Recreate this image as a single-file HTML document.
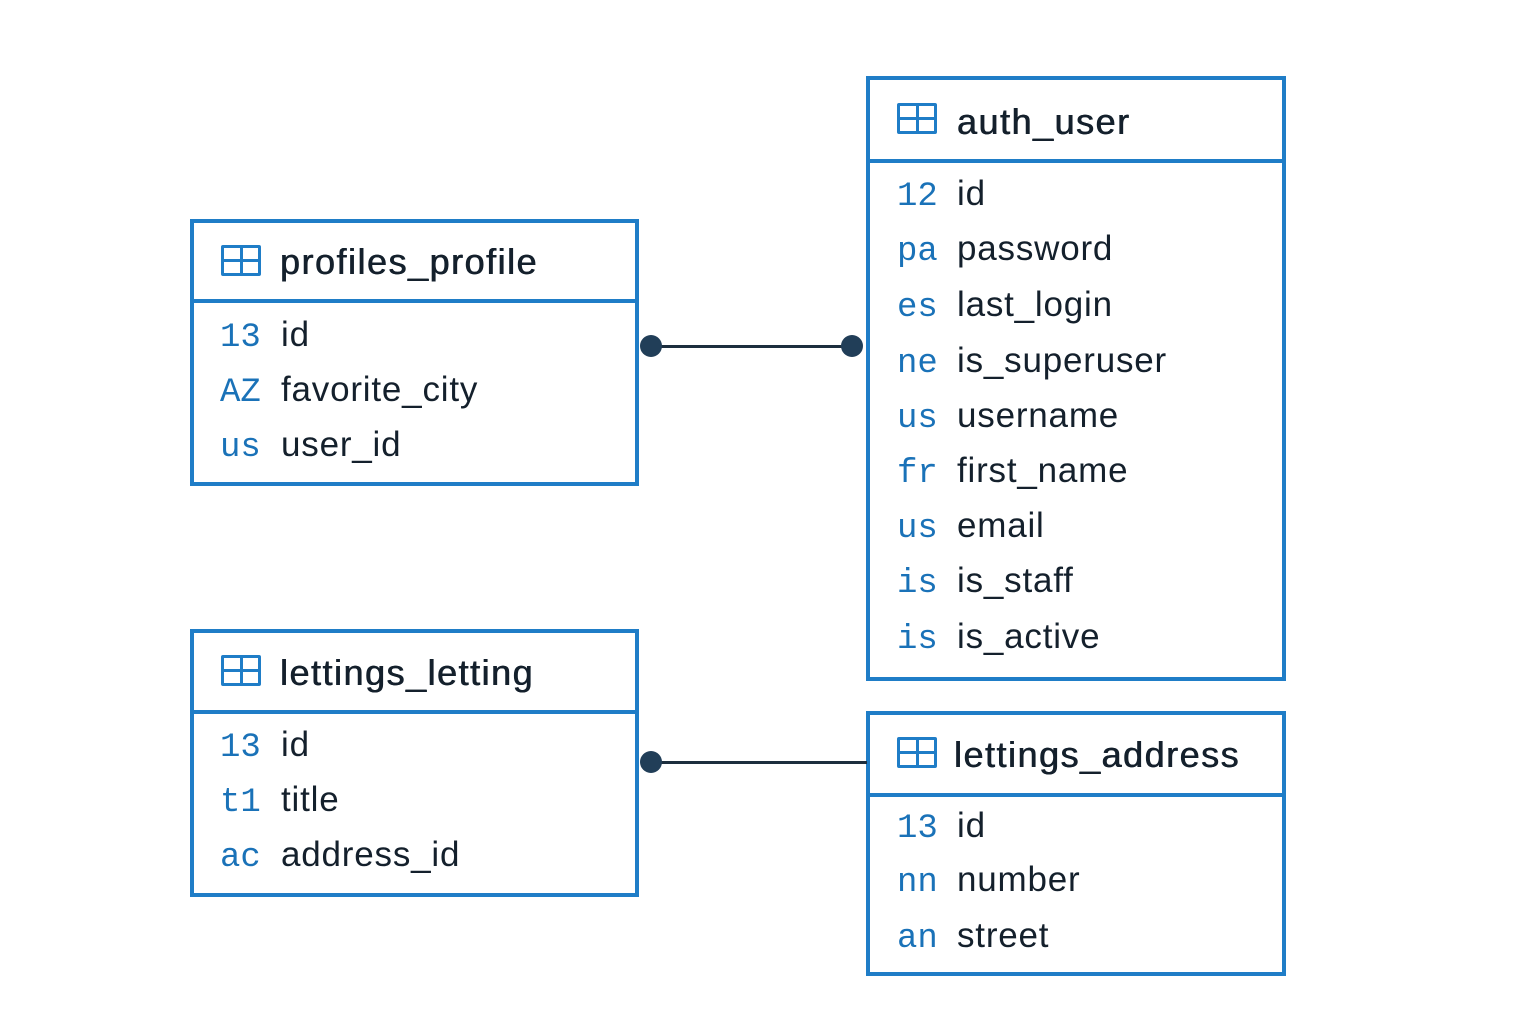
<!DOCTYPE html>
<html><head><meta charset="utf-8"><style>
html,body{margin:0;padding:0;background:#fff;}
body{width:1536px;height:1024px;position:relative;overflow:hidden;font-family:"Liberation Sans",sans-serif;}
.box{position:absolute;border:4px solid #1f7dc7;box-sizing:border-box;background:#fff;}
.hl{position:absolute;left:0;right:0;height:4px;background:#1f7dc7;}
.t{position:absolute;height:40px;line-height:40px;white-space:nowrap;}
.h{font-size:36px;letter-spacing:1.5px;color:#14202c;text-shadow:0.4px 0 0 #14202c,-0.3px 0 0 #14202c;}
.p{font-family:"Liberation Mono",monospace;font-size:34px;color:#1a72b8;margin-top:3px;}
.f{font-size:35px;letter-spacing:0.8px;color:#14202c;}
.icon{position:absolute;width:40px;height:31px;box-sizing:border-box;border:3px solid #1f7dc7;border-radius:2px;}
.icon:before{content:"";position:absolute;left:15.5px;top:0;bottom:0;width:3px;background:#1f7dc7;}
.icon:after{content:"";position:absolute;top:11px;left:0;right:0;height:3px;background:#1f7dc7;}
.dot{position:absolute;width:22px;height:22px;border-radius:50%;background:#213e58;}
.ln{position:absolute;height:3px;background:#1c2e3e;}
</style></head><body>

<!-- profiles_profile -->
<div class="box" style="left:190px;top:219px;width:449px;height:267px;">
<div class="hl" style="top:76px"></div></div>
<div class="icon" style="left:221px;top:245px"></div>
<div class="t h" style="left:280px;top:242px">profiles_profile</div>
<div class="t p" style="left:220px;top:315px">13</div><div class="t f" style="left:281px;top:315px">id</div>
<div class="t p" style="left:220px;top:370px">AZ</div><div class="t f" style="left:281px;top:370px">favorite_city</div>
<div class="t p" style="left:220px;top:425px">us</div><div class="t f" style="left:281px;top:425px">user_id</div>

<!-- auth_user -->
<div class="box" style="left:866px;top:76px;width:420px;height:605px;">
<div class="hl" style="top:79px"></div></div>
<div class="icon" style="left:897px;top:103px"></div>
<div class="t h" style="left:957px;top:102px">auth_user</div>
<div class="t p" style="left:897px;top:174px">12</div><div class="t f" style="left:957px;top:174px">id</div>
<div class="t p" style="left:897px;top:229px">pa</div><div class="t f" style="left:957px;top:229px">password</div>
<div class="t p" style="left:897px;top:285px">es</div><div class="t f" style="left:957px;top:285px">last_login</div>
<div class="t p" style="left:897px;top:341px">ne</div><div class="t f" style="left:957px;top:341px">is_superuser</div>
<div class="t p" style="left:897px;top:396px">us</div><div class="t f" style="left:957px;top:396px">username</div>
<div class="t p" style="left:897px;top:451px">fr</div><div class="t f" style="left:957px;top:451px">first_name</div>
<div class="t p" style="left:897px;top:506px">us</div><div class="t f" style="left:957px;top:506px">email</div>
<div class="t p" style="left:897px;top:561px">is</div><div class="t f" style="left:957px;top:561px">is_staff</div>
<div class="t p" style="left:897px;top:617px">is</div><div class="t f" style="left:957px;top:617px">is_active</div>

<!-- lettings_letting -->
<div class="box" style="left:190px;top:629px;width:449px;height:268px;">
<div class="hl" style="top:77px"></div></div>
<div class="icon" style="left:221px;top:655px"></div>
<div class="t h" style="left:280px;top:653px">lettings_letting</div>
<div class="t p" style="left:220px;top:725px">13</div><div class="t f" style="left:281px;top:725px">id</div>
<div class="t p" style="left:220px;top:780px">t1</div><div class="t f" style="left:281px;top:780px">title</div>
<div class="t p" style="left:220px;top:835px">ac</div><div class="t f" style="left:281px;top:835px">address_id</div>

<!-- lettings_address -->
<div class="box" style="left:866px;top:711px;width:420px;height:265px;">
<div class="hl" style="top:78px"></div></div>
<div class="icon" style="left:897px;top:737px"></div>
<div class="t h" style="left:954px;top:735px">lettings_address</div>
<div class="t p" style="left:897px;top:806px">13</div><div class="t f" style="left:957px;top:806px">id</div>
<div class="t p" style="left:897px;top:860px">nn</div><div class="t f" style="left:957px;top:860px">number</div>
<div class="t p" style="left:897px;top:916px">an</div><div class="t f" style="left:957px;top:916px">street</div>

<!-- connectors -->
<div class="ln" style="left:651px;top:345px;width:201px"></div>
<div class="dot" style="left:640px;top:335px"></div>
<div class="dot" style="left:841px;top:335px"></div>
<div class="ln" style="left:651px;top:761px;width:216px"></div>
<div class="dot" style="left:640px;top:751px"></div>
</body></html>
